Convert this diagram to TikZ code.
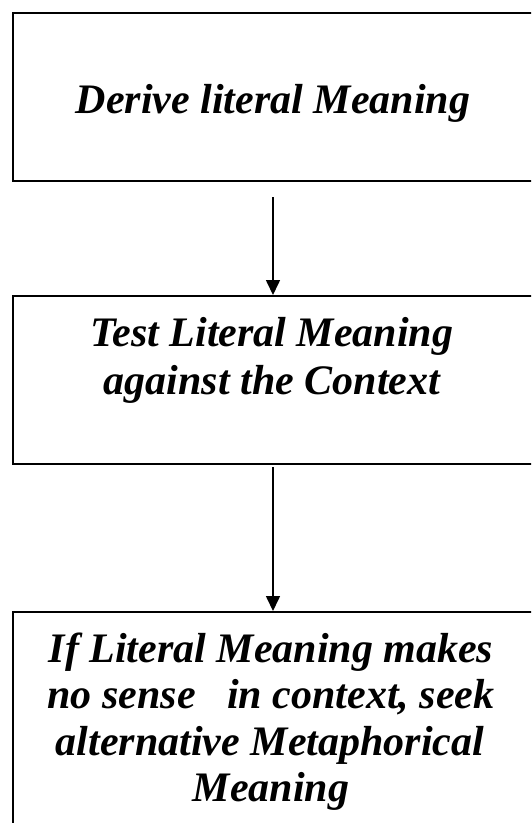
\documentclass[tikz,border=0pt]{standalone}
\usepackage{fontspec}
\setmainfont{Liberation Serif}
\usetikzlibrary{arrows.meta}

\begin{document}
\begin{tikzpicture}[x=1pt, y=-1pt,
  frame/.style={draw=black, line width=2pt, rectangle, inner sep=0pt,
                minimum width=522pt},
  txt/.style={anchor=base, inner sep=0pt,
              font=\fontsize{42}{47}\selectfont\bfseries\itshape},
  flow/.style={draw=black, line width=1.6pt,
               -{Triangle[length=15pt, width=14pt]}}
]
\useasboundingbox (0,0) rectangle (531,823);
\clip (0,0) rectangle (531,823);

% process boxes (right side and bottom of the last run past the page edge)
\node[frame, minimum height=168pt] (b1) at (274,97) {};
\node[frame, minimum height=168pt] (b2) at (274,380) {};
\node[frame, minimum height=260pt] (b3) at (274,742) {};

% box texts, one line each
\node[txt] (t1)  at (273,113)   {Derive literal Meaning};
\node[txt] (t2a) at (272,346)   {Test Literal Meaning};
\node[txt] (t2b) at (272,394)   {against the Context};
\node[txt] (t3a) at (271,662)   {If Literal Meaning makes};
\node[txt] (t3b) at (271,708.5) {no sense\ \ \ in context, seek};
\node[txt] (t3c) at (270,755)   {alternative Metaphorical};
\node[txt] (t3d) at (271,801.5) {Meaning};

% connectors
\coordinate (s1) at (273,197);
\coordinate (s2) at (273,467);
\draw[flow] (s1) -- (s1 |- b2.north);
\draw[flow] (s2) -- (s2 |- b3.north);
\end{tikzpicture}
\end{document}
